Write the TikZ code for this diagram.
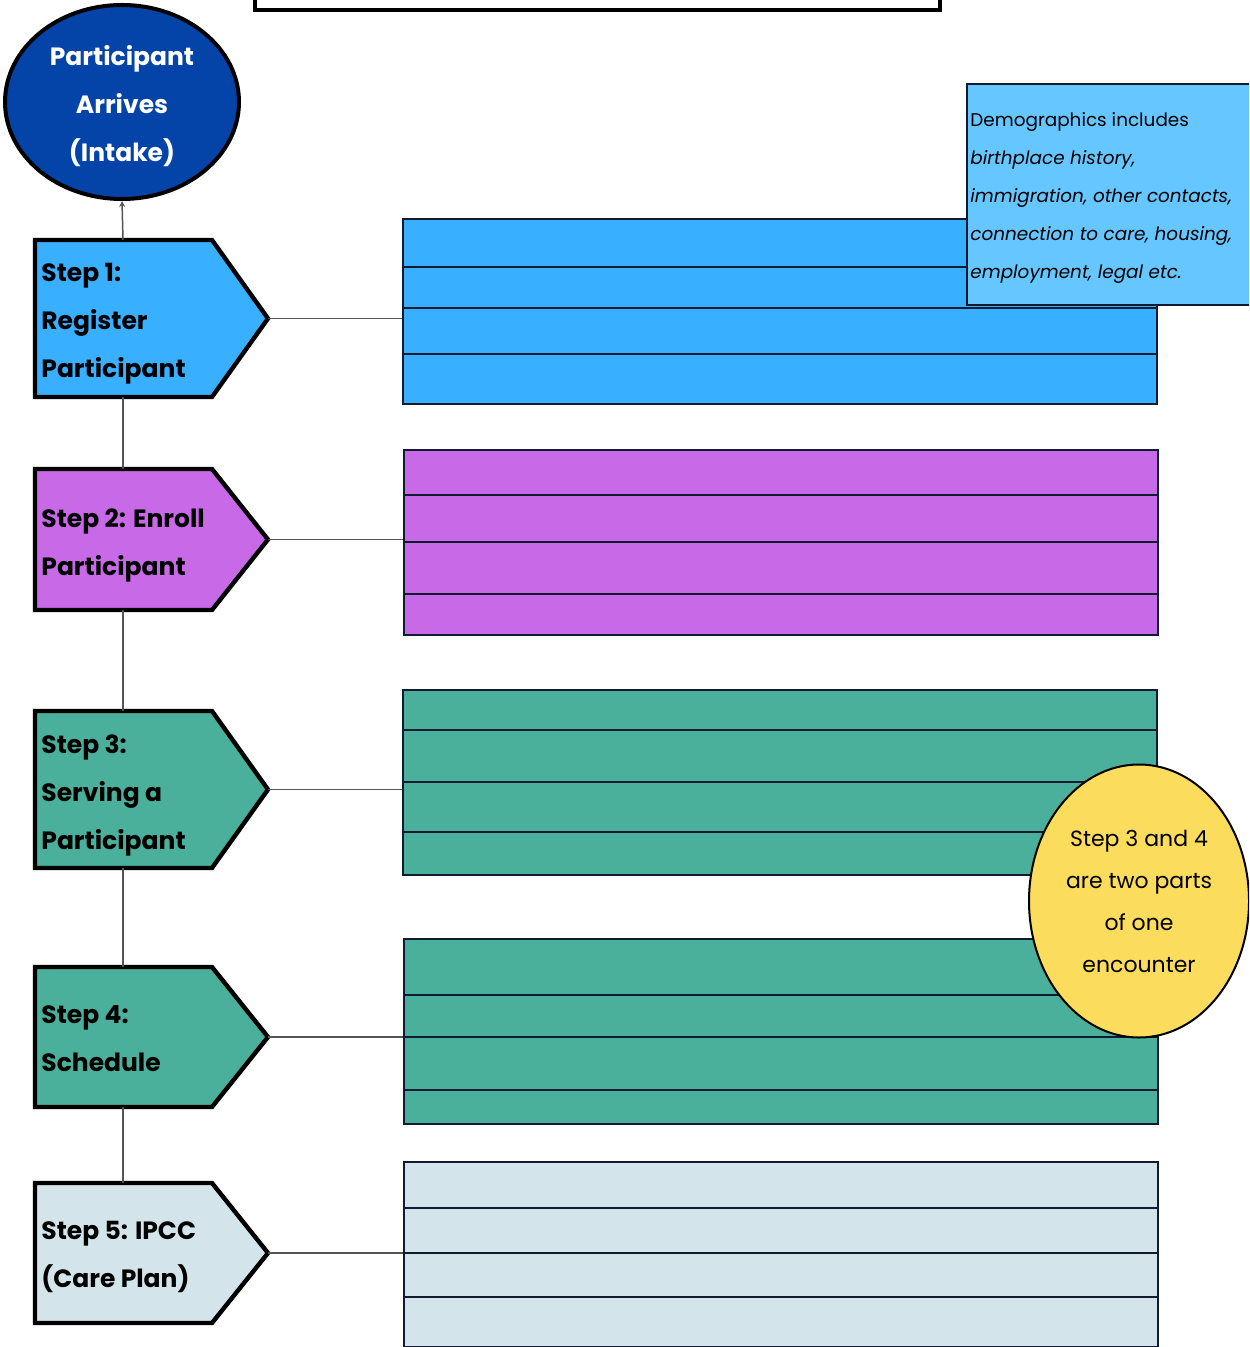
\documentclass[tikz,border=0pt]{standalone}
\usepackage{fontspec}
\setmainfont{Poppins}
\usetikzlibrary{shapes.geometric,arrows.meta}
\definecolor{intakeblue}{RGB}{4,68,168}
\definecolor{regblue}{RGB}{56,176,255}
\definecolor{demoblue}{RGB}{102,198,255}
\definecolor{enrollpurple}{RGB}{200,106,232}
\definecolor{serveteal}{RGB}{74,176,155}
\definecolor{planblue}{RGB}{211,229,235}
\definecolor{notegold}{RGB}{252,220,92}
\definecolor{formline}{RGB}{16,26,48}
\definecolor{linkgray}{RGB}{85,85,85}

\begin{document}
\begin{tikzpicture}[x=0.5pt,y=-0.5pt,
  stepline/.style={draw=black,line width=2.2pt,line join=miter},
  steptext/.style={anchor=west,align=left,inner sep=0pt,font=\bfseries\fontsize{12.5}{24}\selectfont},
  formbox/.style={draw=formline,line width=1pt,anchor=north west,inner sep=0pt,minimum width=377pt,minimum height=92.5pt},
  rule/.style={draw=formline,line width=0.8pt},
  link/.style={draw=linkgray,line width=0.75pt}]
\useasboundingbox (0,0) rectangle (1249,1347);
\clip (0,0) rectangle (1249,1347);

% title frame, cut off at the top
\node[draw,line width=2pt,anchor=south west,minimum width=342.5pt,minimum height=30pt] (titlebox) at (253,12) {};

% start
\node[ellipse,draw,line width=2pt,fill=intakeblue,inner sep=0pt,minimum width=117pt,minimum height=97pt] (intake) at (122,102) {};
\node[text=white,align=center,inner sep=0pt,font=\bfseries\fontsize{12.5}{24}\selectfont] (intaketext) at (122,106)
  {Participant\\Arrives\\(Intake)};

% the five steps
\foreach \n/\t/\b/\c in {1/240/397/regblue, 2/469/610/enrollpurple, 3/711/868/serveteal, 4/967/1107/serveteal, 5/1183/1323/planblue} {
  \draw[stepline,fill=\c] (35,\t) -- (212,\t) -- (268,{(\t+\b)/2}) -- (212,\b) -- (35,\b) -- cycle;
  \coordinate (s\n tip) at (268,{(\t+\b)/2});
  \coordinate (s\n top) at (123,\t);
  \coordinate (s\n bot) at (123,\b);
}
\node[steptext] (s1) at (41,324) {Step 1:\\Register\\Participant};
\node[steptext] (s2) at (41,545) {Step 2: Enroll\\Participant};
\node[steptext] (s3) at (41,795) {Step 3:\\Serving a\\Participant};
\node[steptext] (s4) at (41,1039) {Step 4:\\Schedule};
\node[steptext] (s5) at (41,1257) {Step 5: IPCC\\(Care Plan)};

% forms
\node[formbox,fill=regblue] (f1) at (402,218) {};
\node[formbox,fill=enrollpurple] (f2) at (403,449) {};
\node[formbox,fill=serveteal] (f3) at (402,689) {};
\node[formbox,fill=serveteal] (f4) at (403,938) {};
\node[formbox,fill=planblue] (f5) at (403,1161) {};
\foreach \y in {267,308,354} \draw[rule] (402,\y) -- (1156,\y);
\foreach \y in {495,542,594} \draw[rule] (403,\y) -- (1157,\y);
\foreach \y in {730,782,832} \draw[rule] (402,\y) -- (1156,\y);
\foreach \y in {995,1037,1090} \draw[rule] (403,\y) -- (1157,\y);
\foreach \y in {1208,1253,1297} \draw[rule] (403,\y) -- (1157,\y);

% spine
\draw[link,-{Stealth[length=3pt,width=3pt]}] (s1top) -- (intake.south);
\draw[link] (s1bot) -- (s2top);
\draw[link] (s2bot) -- (s3top);
\draw[link] (s3bot) -- (s4top);
\draw[link] (s4bot) -- (s5top);

% steps to forms
\foreach \n in {1,...,5} \draw[link] (s\n tip) -- (s\n tip -| f\n.west);

% notes
\node[draw=formline,line width=1pt,fill=demoblue,anchor=north west,minimum width=150pt,minimum height=110.5pt,inner sep=0pt] (demo) at (966,83) {};
\node[anchor=west,inner sep=0pt,align=left,font=\fontsize{9.2}{19}\selectfont] (demotext) at (970,198)
  {Demographics includes\\\itshape birthplace history,\\\itshape immigration, other contacts,\\\itshape connection to care, housing,\\\itshape employment, legal etc.};
\node[ellipse,draw,line width=1pt,fill=notegold,align=center,inner sep=0pt,minimum width=110pt,minimum height=136.5pt,
  font=\fontsize{11}{21}\selectfont] (encounter) at (1139,901)
  {Step 3 and 4\\are two parts\\of one\\encounter};
\end{tikzpicture}
\end{document}
